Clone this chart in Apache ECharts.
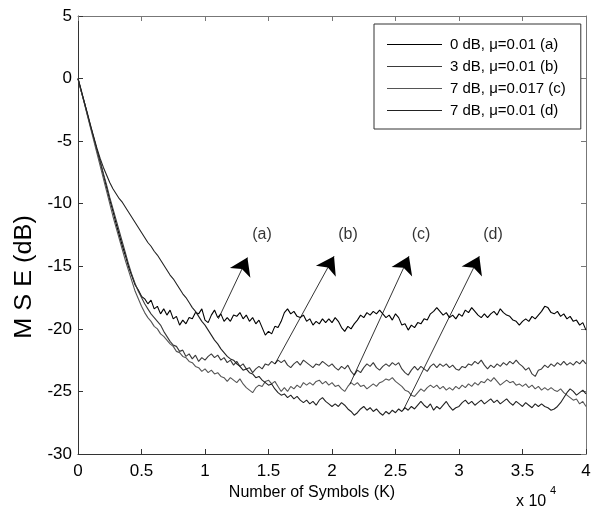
<!DOCTYPE html>
<html>
<head>
<meta charset="utf-8">
<script src="https://cdn.jsdelivr.net/npm/echarts@6/dist/echarts.min.js"></script>
<style>
html,body{margin:0;padding:0;background:#fff;}
#chart{width:603px;height:512px;}
</style>
</head>
<body>
<div id="chart"></div>
<script>
// Sampling step of the learning curves (symbols)
var stepSymbols = 250;

var seriesNames = ['0 dB, \u03bc=0.01 (a)', '3 dB, \u03bc=0.01 (b)', '7 dB, \u03bc=0.017 (c)', '7 dB, \u03bc=0.01 (d)'];

// MSE (dB), one value every 250 symbols, 0 ... 40000
var mseA = [0,-1.0,-1.9,-2.9,-3.9,-4.8,-5.8,-6.7,-7.7,-8.7,
 -9.7,-10.6,-11.6,-12.5,-13.4,-14.2,-15.1,-15.8,-16.5,-16.9,
 -17.4,-17.6,-18.0,-17.7,-18.4,-18.2,-18.8,-18.4,-18.9,-18.5,
 -19.2,-19.0,-19.7,-19.3,-19.6,-19.1,-19.2,-18.7,-18.8,-18.4,
 -19.3,-19.5,-18.9,-18.5,-19.1,-18.8,-19.4,-19.1,-19.4,-18.9,
 -19.0,-18.7,-19.2,-18.9,-19.4,-19.1,-19.6,-19.3,-19.9,-20.5,
 -20.2,-20.4,-19.8,-19.9,-19.4,-18.7,-18.4,-18.8,-18.6,-19.0,
 -19.1,-18.9,-19.4,-19.2,-19.7,-19.4,-19.6,-19.2,-19.5,-19.2,
 -19.5,-19.1,-19.4,-19.9,-20.2,-19.8,-20.0,-19.6,-19.3,-18.9,
 -19.1,-18.7,-18.9,-18.6,-18.8,-18.5,-18.8,-19.1,-18.9,-19.3,
 -18.8,-19.1,-19.7,-19.6,-20.1,-19.7,-19.9,-19.5,-19.6,-19.2,
 -19.3,-18.8,-18.6,-18.3,-18.6,-18.9,-18.7,-19.1,-18.9,-19.2,
 -18.8,-19.0,-18.5,-18.7,-18.3,-18.6,-18.9,-19.1,-18.8,-19.1,
 -18.8,-18.6,-18.9,-18.4,-18.7,-18.9,-19.0,-19.3,-19.4,-19.7,
 -19.4,-19.2,-19.4,-19.0,-19.2,-18.9,-18.6,-18.2,-18.3,-18.7,
 -18.8,-18.6,-19.0,-18.8,-19.2,-19.0,-19.4,-19.3,-19.7,-19.5,
 -20.1];

var mseB = [0,-1.0,-1.9,-2.9,-3.8,-4.8,-5.7,-6.6,-7.6,-8.5,
 -9.5,-10.4,-11.3,-12.2,-13.1,-14.0,-14.9,-15.7,-16.4,-17.0,
 -17.5,-18.0,-18.4,-18.8,-19.1,-19.4,-19.7,-20.2,-20.6,-21.0,
 -21.3,-21.4,-21.8,-21.7,-22.2,-22.0,-22.4,-22.1,-22.6,-22.3,
 -22.5,-22.2,-22.0,-22.3,-22.1,-22.5,-22.3,-22.7,-22.5,-22.9,
 -22.6,-23.0,-22.8,-23.2,-23.1,-23.5,-23.2,-23.0,-23.2,-22.8,
 -22.9,-22.6,-22.8,-22.5,-22.7,-22.5,-22.9,-23.1,-22.8,-22.6,
 -22.9,-22.5,-22.7,-22.9,-23.1,-22.8,-22.9,-22.6,-22.8,-23.0,
 -22.8,-23.1,-23.3,-23.0,-23.2,-22.9,-23.4,-23.7,-23.3,-23.5,
 -23.1,-22.8,-23.0,-22.7,-23.1,-23.3,-23.0,-22.8,-23.0,-22.7,
 -22.9,-22.7,-23.2,-23.5,-23.7,-23.3,-23.0,-23.3,-23.0,-23.2,
 -23.4,-23.0,-22.8,-23.1,-22.8,-23.0,-22.8,-23.1,-22.9,-23.2,
 -23.3,-23.0,-23.1,-22.8,-22.9,-22.6,-22.8,-22.5,-22.9,-23.2,
 -22.9,-23.1,-22.8,-23.0,-22.7,-22.9,-22.6,-22.8,-22.5,-22.8,
 -23.0,-23.3,-23.1,-23.6,-23.8,-23.3,-23.2,-22.9,-23.1,-22.8,
 -23.0,-22.7,-22.9,-22.6,-22.9,-22.7,-22.9,-22.6,-22.8,-22.5,
 -22.8];

var mseC = [0,-1.0,-2.0,-3.0,-4.0,-5.0,-6.0,-7.0,-8.0,-9.0,
 -10.0,-11.0,-11.9,-12.8,-13.7,-14.6,-15.4,-16.2,-17.0,-17.6,
 -18.2,-18.7,-19.1,-19.4,-19.8,-20.0,-20.4,-20.6,-20.9,-21.2,
 -21.4,-21.8,-21.9,-22.2,-22.3,-22.6,-22.7,-23.0,-23.1,-23.4,
 -23.2,-23.5,-23.3,-23.6,-23.5,-23.8,-23.9,-24.2,-23.9,-24.1,
 -24.3,-24.0,-24.4,-24.7,-24.9,-25.1,-24.7,-24.5,-24.6,-24.2,
 -24.1,-24.4,-24.2,-24.6,-25.0,-24.7,-25.0,-24.6,-24.8,-24.5,
 -24.7,-24.3,-24.5,-24.3,-24.5,-24.2,-24.1,-24.4,-24.2,-24.5,
 -24.3,-24.6,-24.5,-24.8,-25.0,-24.6,-24.3,-24.5,-24.3,-24.6,
 -24.5,-24.8,-24.6,-24.4,-24.6,-24.3,-24.2,-24.0,-24.1,-23.9,
 -24.2,-24.4,-24.6,-24.9,-25.0,-25.3,-25.4,-25.1,-24.8,-25.0,
 -24.7,-24.5,-24.7,-24.5,-24.8,-24.6,-24.9,-24.7,-24.9,-24.6,
 -24.8,-24.5,-24.7,-24.4,-24.6,-24.3,-24.5,-24.2,-24.3,-24.0,
 -24.2,-23.9,-24.2,-24.5,-24.3,-24.1,-24.3,-24.2,-24.5,-24.4,
 -24.6,-24.4,-24.7,-24.5,-24.8,-24.6,-24.9,-24.7,-24.9,-24.7,
 -24.9,-25.0,-24.8,-25.1,-25.3,-25.5,-25.7,-25.6,-26.0,-25.8,
 -26.2];

var mseD = [0,-0.9,-1.9,-2.8,-3.8,-4.7,-5.6,-6.4,-7.1,-7.7,
 -8.3,-8.8,-9.2,-9.6,-9.9,-10.3,-10.7,-11.1,-11.5,-11.9,
 -12.3,-12.7,-13.1,-13.4,-13.8,-14.1,-14.5,-14.9,-15.3,-15.7,
 -16.0,-16.4,-16.8,-17.2,-17.5,-17.9,-18.3,-18.6,-19.0,-19.4,
 -19.7,-20.1,-20.5,-20.9,-21.2,-21.6,-21.9,-22.2,-22.4,-22.5,
 -22.8,-23.0,-23.3,-23.2,-23.5,-23.6,-23.9,-23.8,-24.1,-24.3,
 -24.5,-24.4,-24.8,-25.1,-25.3,-25.2,-25.5,-25.3,-25.6,-25.4,
 -25.7,-25.9,-25.7,-26.0,-25.8,-26.1,-25.7,-25.5,-25.8,-26.0,
 -26.2,-26.0,-26.2,-25.9,-26.1,-26.4,-26.6,-26.9,-26.7,-26.4,
 -26.2,-26.5,-26.3,-26.6,-26.4,-26.7,-26.9,-26.6,-26.8,-26.5,
 -26.7,-26.4,-26.6,-26.3,-26.5,-26.2,-26.4,-26.1,-25.8,-26.1,
 -26.3,-26.0,-26.5,-26.2,-26.4,-26.1,-25.8,-26.2,-26.5,-26.3,
 -26.2,-25.9,-25.7,-26.0,-25.8,-26.1,-25.9,-25.7,-26.0,-25.8,
 -25.6,-25.9,-25.7,-26.0,-25.8,-25.6,-25.9,-26.1,-25.8,-26.0,
 -26.2,-25.9,-26.1,-26.3,-26.0,-26.2,-26.0,-26.2,-26.3,-26.5,
 -26.4,-26.2,-25.9,-25.5,-25.1,-24.8,-25.0,-25.3,-25.1,-24.9,
 -25.2];

// Annotation arrows: tail on curve -> arrow head, and the label positions (data units)
var arrowTails = [[11050, -19.2], [15510, -22.8], [21420, -24.4], [25610, -26.5]];
var arrowHeads = [[13340, -14.3], [20160, -14.2], [26060, -14.2], [31600, -14.2]];
var arrowLabels = ['(a)', '(b)', '(c)', '(d)'];
var arrowLabelPos = [[14490, -12.5], [21260, -12.5], [27010, -12.5], [32680, -12.5]];

// Axis settings
var xMin = 0, xMax = 40000, xStep = 5000, xScale = 10000;
var yMin = -30, yMax = 5, yStep = 5;

var lineColors = ['#000000', '#3a3a3a', '#555555', '#222222'];
var FONT = 'Liberation Sans, Arial, Helvetica, sans-serif';

function toPairs(arr) {
  return arr.map(function (v, i) { return [i * stepSymbols, v]; });
}

var chart = echarts.init(document.getElementById('chart'), null, {renderer: 'canvas'});

var allMse = [mseA, mseB, mseC, mseD];
var series = allMse.map(function (arr, k) {
  return {
    name: seriesNames[k],
    type: 'line',
    data: toPairs(arr),
    symbol: 'none',
    showSymbol: false,
    smooth: false,
    silent: true,
    lineStyle: {color: lineColors[k], width: 1.1},
    itemStyle: {color: lineColors[k]},
    z: 3
  };
});

series.push({
  name: 'arrows',
  type: 'line',
  data: [],
  silent: true,
  markLine: {
    silent: true,
    animation: false,
    symbol: ['none', 'arrow'],
    symbolSize: 17,
    lineStyle: {color: '#000', width: 0.8, type: 'solid'},
    itemStyle: {color: '#000'},
    label: {show: false},
    emphasis: {disabled: true},
    data: arrowTails.map(function (t, i) {
      return [{coord: t}, {coord: arrowHeads[i]}];
    })
  },
  z: 4
});

series.push({
  name: 'arrowText',
  type: 'scatter',
  silent: true,
  symbolSize: 0,
  data: arrowLabelPos.map(function (p, i) { return {value: p, name: arrowLabels[i]}; }),
  label: {
    show: true, position: 'inside', formatter: '{b}',
    color: '#000', fontSize: 16, fontFamily: FONT
  },
  z: 5
});

var axisColor = '#333';
var boxColor = '#777';

var option = {
  animation: false,
  backgroundColor: '#fff',
  grid: {left: 78, right: 17, top: 16, bottom: 58, containLabel: false},
  legend: {
    data: seriesNames,
    orient: 'vertical',
    left: 374, top: 24,
    icon: 'rect',
    itemWidth: 55, itemHeight: 1.2, itemGap: 7,
    padding: [13, 15, 11, 13],
    backgroundColor: '#fff',
    borderColor: '#333', borderWidth: 1, borderRadius: 0,
    selectedMode: false,
    textStyle: {fontSize: 15, color: '#000', fontFamily: FONT, padding: [0, 0, 0, 3]}
  },
  xAxis: [{
    type: 'value', min: xMin, max: xMax, interval: xStep,
    axisLine: {onZero: false, lineStyle: {color: axisColor, width: 1}},
    axisTick: {inside: true, length: 5, lineStyle: {color: axisColor}},
    axisLabel: {formatter: function (v) { return String(v / xScale); }, color: '#000', fontSize: 17, fontFamily: FONT, margin: 9},
    splitLine: {show: false}
  }, {
    type: 'value', position: 'top', min: xMin, max: xMax, interval: xStep,
    axisLine: {onZero: false, lineStyle: {color: boxColor, width: 1}},
    axisTick: {inside: true, length: 5, lineStyle: {color: boxColor}},
    axisLabel: {show: false},
    splitLine: {show: false}
  }],
  yAxis: [{
    type: 'value', min: yMin, max: yMax, interval: yStep,
    axisLine: {show: true, onZero: false, lineStyle: {color: axisColor, width: 1}},
    axisTick: {show: true, inside: true, length: 5, lineStyle: {color: axisColor}},
    axisLabel: {color: '#000', fontSize: 17, fontFamily: FONT, margin: 6},
    splitLine: {show: false}
  }, {
    type: 'value', position: 'right', min: yMin, max: yMax, interval: yStep,
    axisLine: {show: true, onZero: false, lineStyle: {color: boxColor, width: 1}},
    axisTick: {show: true, inside: true, length: 5, lineStyle: {color: boxColor}},
    axisLabel: {show: false},
    splitLine: {show: false}
  }],
  graphic: [
    {type: 'text', x: 312, y: 493, silent: true,
     style: {text: 'Number of Symbols (K)', font: '16px ' + FONT, fill: '#000', align: 'center', verticalAlign: 'middle'}},
    {type: 'text', x: 516, y: 502, silent: true,
     style: {text: 'x 10', font: '16px ' + FONT, fill: '#000', align: 'left', verticalAlign: 'middle'}},
    {type: 'text', x: 550, y: 491, silent: true,
     style: {text: '4', font: '11px ' + FONT, fill: '#000', align: 'left', verticalAlign: 'middle'}},
    {type: 'text', x: 25, y: 277, rotation: Math.PI / 2, scaleX: 1.1, silent: true,
     style: {text: 'M S E (dB)', font: '23px Liberation Sans Narrow, Arial Narrow, ' + FONT, fill: '#000', align: 'center', verticalAlign: 'middle'}}
  ],
  series: series
};

chart.setOption(option);
</script>
</body>
</html>
